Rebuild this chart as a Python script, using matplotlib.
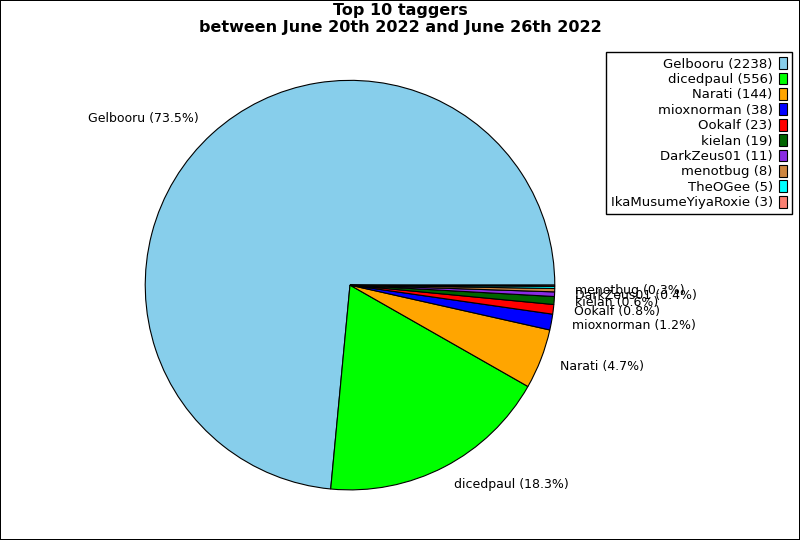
import matplotlib
matplotlib.use("Agg")
import matplotlib.pyplot as plt

taggers = ["Gelbooru", "dicedpaul", "Narati", "mioxnorman", "Ookalf", "kielan",
           "DarkZeus01", "menotbug", "TheOGee", "IkaMusumeYiyaRoxie"]
counts = [2238, 556, 144, 38, 23, 19, 11, 8, 5, 3]
colors = ["skyblue", "lime", "orange", "blue", "red", "darkgreen",
          "blueviolet", "peru", "cyan", "salmon"]

total = sum(counts)
# small slices (<0.25%) get no label on the pie
pie_labels = []
for name, c in zip(taggers, counts):
    pct = c / total * 100
    pie_labels.append(f"{name} ({pct:.1f}%)" if pct >= 0.25 else "")
legend_labels = [f"{n} ({c})" for n, c in zip(taggers, counts)]

fig = plt.figure(figsize=(8, 5.4), dpi=100, edgecolor="black", linewidth=1.2)
ax = fig.add_axes([0.1175, -0.002, 0.64, 0.948])
wedges, texts = ax.pie(counts, labels=pie_labels, colors=colors,
                       wedgeprops={"edgecolor": "black", "linewidth": 0.8},
                       textprops={"fontsize": 9})
ax.set_xlim(-1.25, 1.25)
ax.set_ylim(-1.25, 1.25)
ax.set_aspect("equal")

fig.suptitle("Top 10 taggers\nbetween June 20th 2022 and June 26th 2022",
             fontsize=11.5, fontweight="bold", y=0.995)
fig.legend(wedges, legend_labels, loc="upper right", bbox_to_anchor=(0.998, 0.915),
           markerfirst=False, fancybox=False, edgecolor="black", fontsize=9.5,
           handlelength=0.6, handleheight=1.0, handletextpad=0.5,
           labelspacing=0.15, borderpad=0.35, framealpha=1)

fig.savefig("out.png", dpi=100)
